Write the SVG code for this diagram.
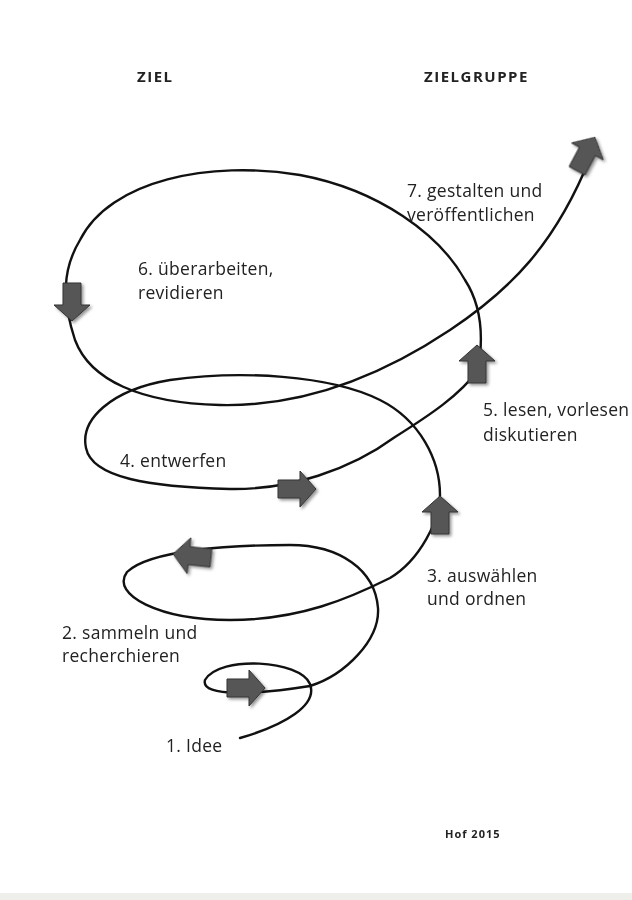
<svg xmlns="http://www.w3.org/2000/svg" width="632" height="900" viewBox="0 0 632 900">
<defs>
<style>
.t{font-family:"Open Sans","Lato",sans-serif;font-size:17.5px;fill:#222;letter-spacing:0.3px}
.h{font-family:"Open Sans","Lato",sans-serif;font-size:15px;font-weight:bold;fill:#222;letter-spacing:1.5px}
.c{fill:none;stroke:#111;stroke-width:2.4;stroke-linecap:round}
.a{fill:#565656;stroke:#333;stroke-width:1}
</style>
<filter id="sh" x="-30%" y="-30%" width="160%" height="160%"><feDropShadow dx="2" dy="2" stdDeviation="1.5" flood-color="#000" flood-opacity="0.4"/></filter>
<symbol id="ar" overflow="visible"><path class="a" d="M-19,-9 H3 V-18 L19,0 L3,18 V9 H-19 Z"/></symbol>
</defs>
<rect width="632" height="900" fill="#fff"/>
<rect x="0" y="893" width="632" height="7" fill="#eeeeea"/>
<g id="connectors">
<path class="c" d="M240,738 C285,725 318,705 310,684 C300,660 220,655 205,680 C200,698 260,694 310,686 C345,675 380,640 378,608 C375,570 340,545 290,545 C230,545 150,550 127,572 C110,595 160,620 230,620 C300,620 350,598 390,578 C420,560 440,520 440,495 C440,460 420,420 380,400 C330,375 240,370 170,380 C110,390 80,420 86,448 C92,478 150,487 230,489 C290,490 350,470 395,437 C430,415 460,395 478,370 C485,330 478,300 465,280 C440,235 380,190 300,175 C210,160 110,180 80,240 C62,270 62,300 75,340 C90,380 140,403 220,405 C310,407 390,370 450,330 C510,290 555,245 590,158"/>
</g>
<g id="arrows" filter="url(#sh)">
<use href="#ar" transform="translate(246,688)"/>
<use href="#ar" transform="translate(192,556) rotate(186)"/>
<use href="#ar" transform="translate(440,515) rotate(-90)"/>
<use href="#ar" transform="translate(297,489)"/>
<use href="#ar" transform="translate(477,364) rotate(-90)"/>
<use href="#ar" transform="translate(72,302) rotate(90)"/>
<use href="#ar" transform="translate(586,154) rotate(-62)"/>
</g>
<g id="titles">
<text class="h" x="137" y="82">ZIEL</text>
<text class="h" x="424" y="82">ZIELGRUPPE</text>
</g>
<g id="n1"><text class="t" x="166" y="752">1. Idee</text></g>
<g id="n2"><text class="t" x="62" y="639">2. sammeln und</text><text class="t" x="62" y="662">recherchieren</text></g>
<g id="n3"><text class="t" x="427" y="582">3. auswählen</text><text class="t" x="427" y="605">und ordnen</text></g>
<g id="n4"><text class="t" x="120" y="467">4. entwerfen</text></g>
<g id="n5"><text class="t" x="483" y="416">5. lesen, vorlesen</text><text class="t" x="483" y="441">diskutieren</text></g>
<g id="n6"><text class="t" x="138" y="275">6. überarbeiten,</text><text class="t" x="138" y="299">revidieren</text></g>
<g id="n7"><text class="t" x="407" y="197">7. gestalten und</text><text class="t" x="407" y="221">veröffentlichen</text></g>
<text x="445" y="838" style="font-family:'Open Sans',sans-serif;font-size:11px;font-weight:bold;fill:#222;letter-spacing:1px">Hof 2015</text>
</svg>
